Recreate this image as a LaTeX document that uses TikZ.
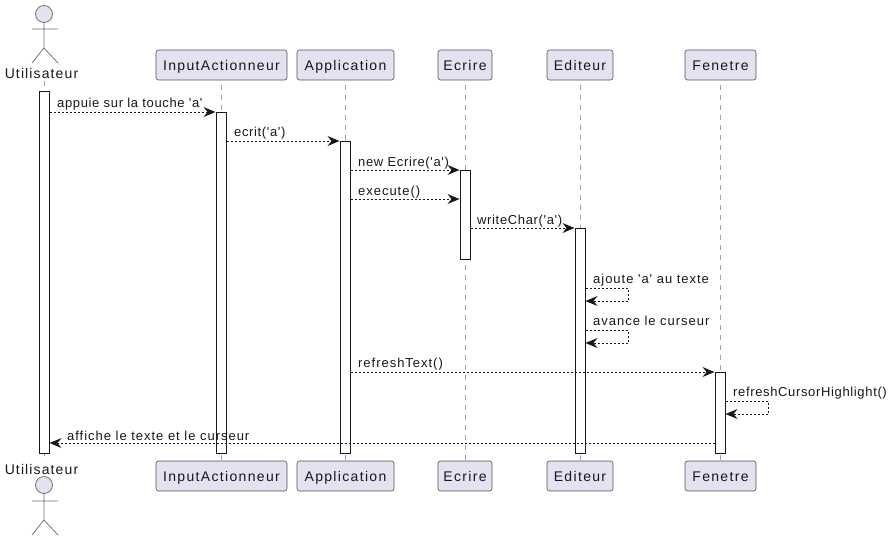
\documentclass[tikz,border=0pt]{standalone}
\usepackage{fontspec}
\newfontfamily\partfont[LetterSpace=9.5]{Liberation Sans}
\newfontfamily\actorfont[LetterSpace=8]{Liberation Sans}
\newfontfamily\msgfont[LetterSpace=5]{Liberation Sans}
\newfontfamily\msgwidefont[LetterSpace=7.5]{Liberation Sans}
\usetikzlibrary{arrows.meta}
\definecolor{partfill}{HTML}{E2E2F0}
\definecolor{ink}{HTML}{181818}
\tikzset{
  part/.style={draw=ink!75,line width=0.6pt,fill=partfill,rounded corners=2.5pt,minimum height=30pt,inner sep=0pt,text height=10pt,text depth=0pt,font=\partfont\fontsize{14}{16}\selectfont,text=ink},
  actlabel/.style={font=\actorfont\fontsize{14}{16}\selectfont,text=ink,inner sep=0pt},
  life/.style={draw=ink!40,line width=0.9pt,dash pattern=on 5pt off 5pt},
  activ/.style={draw=ink,line width=1pt,fill=white,minimum width=10pt,inner sep=0pt},
  msg/.style={draw=ink,line width=0.7pt,dash pattern=on 2pt off 2pt,-{Stealth[length=12pt,width=10pt,inset=4pt,fill=ink,line width=0pt]}},
  msgtext/.style={font=\msgfont\fontsize{13}{15}\selectfont,text=ink,inner sep=0pt,anchor=base west},
  msgwide/.style={msgtext,font=\msgwidefont\fontsize{13}{15}\selectfont},
  stick/.style={draw=ink!60,line width=0.8pt,fill=none},
  head/.style={draw=ink!60,line width=0.8pt,fill=partfill,circle,minimum size=17pt,inner sep=0pt}
}
\begin{document}
\begin{tikzpicture}[x=1pt,y=-1pt]
\useasboundingbox[fill=white] (0,0) rectangle (892,542);
% lifeline ends
\coordinate (ut) at (44,81);
\coordinate (ub) at (44,461);
\coordinate (it) at (221.5,65);
\coordinate (ib) at (221.5,476);
\coordinate (at) at (345.5,65);
\coordinate (ab) at (345.5,476);
\coordinate (et) at (465,65);
\coordinate (eb) at (465,476);
\coordinate (dt) at (580,65);
\coordinate (db) at (580,476);
\coordinate (ft) at (720.5,65);
\coordinate (fb) at (720.5,476);
% lifelines
\foreach \t/\b in {ut/ub,it/ib,at/ab,et/eb,dt/db,ft/fb} \draw[life] (\t) -- (\b);
% actors
\node[actlabel] (lu) at (41.5,73) {Utilisateur};
\node[actlabel] (lb) at (41.5,469) {Utilisateur};
\node[head] (hu) at (44,14) {};
\node[head] (hb) at (44,485) {};
\draw[stick] (hu.south) -- (44,48) coordinate (cu) (32,29) -- (58,29) (32,63) -- (cu) -- (58,63);
\draw[stick] (hb.south) -- (44,520) coordinate (cb) (32,501) -- (58,501) (32,535) -- (cb) -- (58,535);
% participants
\node[part,minimum width=131pt] (pit) at (it) {InputActionneur};
\node[part,minimum width=97pt] (pat) at (at) {Application};
\node[part,minimum width=54pt] (pet) at (et) {Ecrire};
\node[part,minimum width=66pt] (pdt) at (dt) {Editeur};
\node[part,minimum width=71pt] (pft) at (ft) {Fenetre};
\node[part,minimum width=131pt] (pib) at (ib) {InputActionneur};
\node[part,minimum width=97pt] (pab) at (ab) {Application};
\node[part,minimum width=54pt] (peb) at (eb) {Ecrire};
\node[part,minimum width=66pt] (pdb) at (db) {Editeur};
\node[part,minimum width=71pt] (pfb) at (fb) {Fenetre};
% activations
\node[activ,minimum height=362pt,anchor=north] (au) at (44,91) {};
\node[activ,minimum height=341pt,anchor=north] (ai) at (221,112) {};
\node[activ,minimum height=312pt,anchor=north] (aa) at (345,141) {};
\node[activ,minimum height=89pt,anchor=north] (ae) at (465,170) {};
\node[activ,minimum height=225pt,anchor=north] (ad) at (580,228) {};
\node[activ,minimum height=81pt,anchor=north] (af) at (720,372) {};
% message levels
\coordinate (m1) at (0,112);
\coordinate (m2) at (0,141);
\coordinate (m3) at (0,170);
\coordinate (m4) at (0,199);
\coordinate (m5) at (0,228);
\coordinate (m6) at (0,372);
\coordinate (m7) at (0,443);
\coordinate (s1a) at (628,288);
\coordinate (s1b) at (628,301);
\coordinate (s2a) at (628,330);
\coordinate (s2b) at (628,343);
\coordinate (s3a) at (768,401);
\coordinate (s3b) at (768,414);
% messages
\draw[msg] (au.east |- m1) -- (ai.west |- m1);
\draw[msg] (ai.east |- m2) -- (aa.west |- m2);
\draw[msg] (aa.east |- m3) -- (ae.west |- m3);
\draw[msg] (aa.east |- m4) -- (ae.west |- m4);
\draw[msg] (ae.east |- m5) -- (ad.west |- m5);
\draw[msg] (ad.east |- s1a) -- (s1a) -- (s1b) -- (ad.east |- s1b);
\draw[msg] (ad.east |- s2a) -- (s2a) -- (s2b) -- (ad.east |- s2b);
\draw[msg] (aa.east |- m6) -- (af.west |- m6);
\draw[msg] (af.east |- s3a) -- (s3a) -- (s3b) -- (af.east |- s3b);
\draw[msg] (af.west |- m7) -- (au.east |- m7);
% labels
\node[msgtext] (l1) at (57,107) {appuie sur la touche 'a'};
\node[msgtext] (l2) at (234,136) {ecrit('a')};
\node[msgtext] (l3) at (358,166) {new Ecrire('a')};
\node[msgwide] (l4) at (358,195) {execute()};
\node[msgtext] (l5) at (477,224) {writeChar('a')};
\node[msgwide] (l6) at (593,283) {ajoute 'a' au texte};
\node[msgwide] (l7) at (593,325) {avance le curseur};
\node[msgwide] (l8) at (358,367) {refreshText()};
\node[msgtext] (l9) at (733,396) {refreshCursorHighlight()};
\node[msgwide] (l10) at (67,440) {affiche le texte et le curseur};
\end{tikzpicture}
\end{document}
